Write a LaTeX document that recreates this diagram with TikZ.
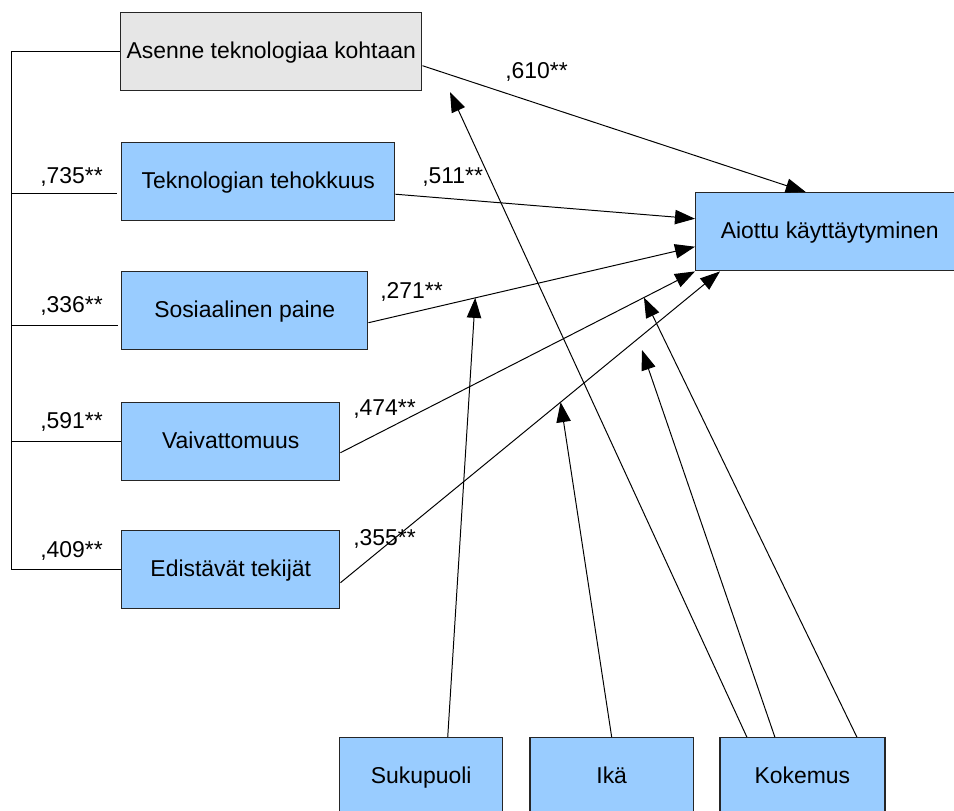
\documentclass[tikz,border=0pt]{standalone}
\usepackage{fontspec}
\setmainfont{Liberation Sans}
\definecolor{boxblue}{RGB}{153,204,255}
\definecolor{boxgray}{RGB}{230,230,230}
\usepackage{tikz}
\usetikzlibrary{arrows.meta,positioning}

\begin{document}
\begin{tikzpicture}[x=0.025cm, y=-0.025cm,
          fac/.style={draw=black!85, fill=boxblue, line width=1pt,
                      font=\fontsize{16.3pt}{19pt}\selectfont,
                      text height=0.9em, text depth=0pt,
                      minimum height=1.95cm, inner sep=0pt, align=center},
          att/.style={fac, fill=boxgray},
          coef/.style={font=\fontsize{16.3pt}{19pt}\selectfont, inner sep=0pt,
                       anchor=base west},
          arr/.style={-{Triangle[length=0.5cm,width=0.36cm]}, line width=0.7pt},
          rung/.style={line width=0.7pt}
        ]
          \useasboundingbox (0,0) rectangle (954,810);

          % left column
          \node[att, minimum width=7.525cm, anchor=north west] (A) at (120,12) {Asenne teknologiaa kohtaan};
          \node[fac, minimum width=6.825cm, anchor=north west] (T) at (121,142) {Teknologian tehokkuus};
          \node[fac, minimum width=6.15cm,  anchor=north west] (S) at (121,271) {Sosiaalinen paine};
          \node[fac, minimum width=5.45cm,  anchor=north west] (V) at (121,402) {Vaivattomuus};
          \node[fac, minimum width=5.45cm,  anchor=north west] (E) at (121,530) {Edistävät tekijät};
          % outcome
          \node[fac, minimum width=6.7cm,   anchor=north west] (K) at (695,192) {Aiottu käyttäytyminen};
          % moderators
          \node[fac, minimum width=4.075cm, anchor=north west] (Su) at (339,737) {Sukupuoli};
          \node[fac, minimum width=4.075cm] (Ik) [right=0.65cm of Su]  {Ikä};
          \node[fac, minimum width=4.125cm] (Ko) [right=0.63cm of Ik] {Kokemus};

          % bracket on the left
          \draw[rung] (A.west) -- ++(-108.3,0) coordinate (top) |- (E.west);
          \coordinate (t1) at ([shift={(-4,11.5)}]T.west);
          \coordinate (s0) at ([shift={(-3.5,14.7)}]S.west);
          \draw[rung] (top |- t1) -- (t1);
          \draw[rung] (top |- s0) -- (s0);
          \draw[rung] (top |- V.west) -- (V.west);

          \node[coef] (kT) at (40,183) {,735**};
          \node[coef] (kS) at (40,312) {,336**};
          \node[coef] (kV) at (40,428) {,591**};
          \node[coef] (kE) at (40,557) {,409**};

          % paths to the outcome
          \draw[arr] ([shift={(0,14)}]A.east) -- ([shift={(-24,0)}]K.north);
          \draw[arr] ([shift={(0,12.5)}]T.east) -- ([shift={(0,-13)}]K.west);
          \draw[arr] ([shift={(0,12)}]S.east) -- coordinate[pos=0.327] (s1) ([shift={(0,15)}]K.west);
          \draw[arr] ([shift={(0,11)}]V.east) -- coordinate[pos=0.856] (v1) (K.south west);
          \draw[arr] ([shift={(0,13)}]E.east) -- coordinate[pos=0.58] (e1) ([shift={(25,0)}]K.south west);

          \node[coef] (bA) at (505,78)  {,610**};
          \node[coef] (bT) at (422,183) {,511**};
          \node[coef] (bS) at (380,298) {,271**};
          \node[coef] (bV) at (353,415) {,474**};
          \node[coef] (bE) at (353,545) {,355**};

          % moderator arrows
          \coordinate (a1) at (450,92);
          \coordinate (m1) at (642,350);
          \draw[arr] ([shift={(26.5,0)}]Su.north) -- (s1);
          \draw[arr] (Ik.north) -- (e1);
          \draw[arr] ([shift={(-55.5,0)}]Ko.north) -- (a1);
          \draw[arr] ([shift={(-27.5,0)}]Ko.north) -- (m1);
          \draw[arr] ([shift={(54.5,0)}]Ko.north) -- (v1);
\end{tikzpicture}
\end{document}
